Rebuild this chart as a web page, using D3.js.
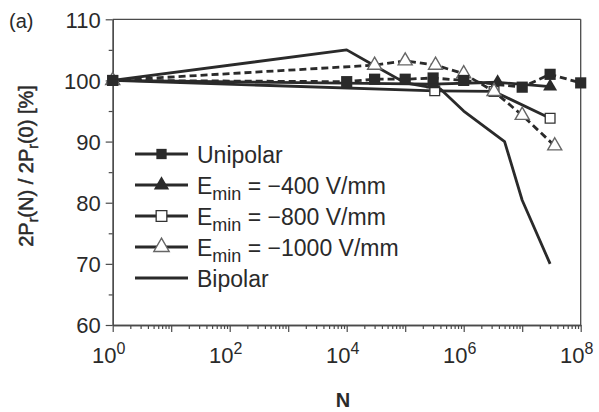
<!DOCTYPE html>
<html><head><meta charset="utf-8">
<script src="https://cdn.jsdelivr.net/npm/d3@7"></script>
<style>body{margin:0;background:#fff}svg{display:block}text{font-family:"Liberation Sans",Arial,sans-serif;fill:#2a2a2a}</style>
</head><body><svg id="c" width="599" height="412"></svg>
<script>
// ---- data ----
const unipolarN   = [1, 1e4, 3e4, 1e5, 3e5, 1e6, 1e7, 3e7, 1e8];
const unipolarV   = [100, 99.8, 100.2, 100.2, 100.4, 100.0, 98.9, 101.0, 99.6];
const e400N       = [1, 3e5, 3.8e6, 3e7];
const e400V       = [100, 99.4, 99.7, 99.0];
const e800N       = [1, 3.2e5, 3.3e6, 3e7];
const e800V       = [100, 98.3, 98.2, 93.8];
const e1000N      = [1, 3e4, 1e5, 3.3e5, 1e6, 3.3e6, 1e7, 3.6e7];
const e1000V      = [100, 102.5, 103.2, 102.5, 101.1, 98.2, 94.3, 89.3];
const bipolarN    = [1, 1e4, 3e4, 1e5, 4e5, 1e6, 5e6, 1e7, 3e7];
const bipolarV    = [100, 105, 102.4, 99.6, 98.6, 95.0, 90.0, 80.4, 70.0];
const legendLabels = ["Unipolar", "−400 V/mm", "−800 V/mm", "−1000 V/mm", "Bipolar"];
const yTicks = [60, 70, 80, 90, 100, 110];
const xTickExps = [0, 2, 4, 6, 8];

const svg = d3.select("#c");
const x = d3.scaleLog().domain([1, 1e8]).range([112.7, 580.7]);
const y = d3.scaleLinear().domain([60, 110]).range([325, 19.3]);
const ink = "#2a2a2a", frame = "#4a4a4a";

// frame top/right
svg.append("line").attr("x1", x(1)).attr("x2", x(1e8)).attr("y1", y(110)).attr("y2", y(110)).attr("stroke", frame).attr("stroke-width", 1.3);
svg.append("line").attr("x1", x(1e8)).attr("x2", x(1e8)).attr("y1", y(110)).attr("y2", y(60)).attr("stroke", frame).attr("stroke-width", 1.3);

// y axis
const yAxis = svg.append("g").attr("transform", `translate(${x(1)},0)`)
  .call(d3.axisLeft(y).tickValues(yTicks).tickSize(7).tickSizeOuter(0).tickFormat(d3.format("d")).tickPadding(5));
yAxis.selectAll("text").attr("font-size", 22).attr("dy", "0.36em").attr("fill", ink);
svg.append("g").attr("transform", `translate(${x(1)},0)`)
  .call(d3.axisLeft(y).tickValues([65, 75, 85, 95, 105]).tickSize(4).tickSizeOuter(0).tickFormat(""));

// x axis
const minor = [];
for (let e = 0; e < 8; e++) for (let m = 2; m <= 9; m++) minor.push(m * Math.pow(10, e));
const decades = d3.range(0, 9).map(e => Math.pow(10, e));
svg.append("g").attr("transform", `translate(0,${y(60)})`)
  .call(d3.axisBottom(x).tickValues(minor).tickSize(4).tickSizeOuter(0).tickFormat(""));
svg.append("g").attr("transform", `translate(0,${y(60)})`)
  .call(d3.axisBottom(x).tickValues(decades).tickSize(7).tickSizeOuter(0).tickFormat(""));
svg.selectAll(".domain").attr("stroke", frame).attr("stroke-width", 1.3);
svg.selectAll(".tick line").attr("stroke", frame).attr("stroke-width", 1.2);

xTickExps.forEach(e => {
  const t = svg.append("text").attr("x", x(Math.pow(10, e)) - 4).attr("y", 363).attr("text-anchor", "middle").attr("font-size", 22);
  t.append("tspan").text("10");
  t.append("tspan").attr("dy", -9).attr("font-size", 16).text(e);
});

// labels
svg.append("text").attr("x", 343).attr("y", 407).attr("text-anchor", "middle").attr("font-size", 20).attr("font-weight", "bold").text("N");
const yt = svg.append("text").attr("transform", "translate(33,166) rotate(-90)").attr("text-anchor", "middle")
  .attr("font-size", 20).attr("stroke", "#2a2a2a").attr("stroke-width", 0.5);
yt.append("tspan").text("2P");
yt.append("tspan").attr("font-size", 14).attr("dy", 5).text("r");
yt.append("tspan").attr("dy", -5).text("(N) / 2P");
yt.append("tspan").attr("font-size", 14).attr("dy", 5).text("r");
yt.append("tspan").attr("dy", -5).text("(0) [%]");
svg.append("text").attr("x", 9).attr("y", 28).attr("font-size", 20).text("(a)");

// series
const series = [
  {N: bipolarN, V: bipolarV, dash: null, marker: null},
  {N: e800N, V: e800V, dash: null, marker: "osq"},
  {N: e400N, V: e400V, dash: null, marker: "ftri"},
  {N: e1000N, V: e1000V, dash: "7,4", marker: "otri"},
  {N: unipolarN, V: unipolarV, dash: "7,4", marker: "fsq"},
];
const line = d3.line().x(d => x(d[0])).y(d => y(d[1]));
series.forEach(s => {
  const pts = s.N.map((n, i) => [n, s.V[i]]);
  svg.append("path").datum(pts).attr("d", line).attr("fill", "none").attr("stroke", ink)
    .attr("stroke-width", 2.8).attr("stroke-linejoin", "round").attr("stroke-dasharray", s.dash);
});
function marker(g, type, cx, cy, big) {
  const k = big || 1;
  if (type === "fsq") g.append("path").attr("d", d3.symbol(d3.symbolSquare, 125 * k)()).attr("transform", `translate(${cx},${cy})`).attr("fill", ink);
  if (type === "osq") g.append("path").attr("d", d3.symbol(d3.symbolSquare, 95 * k)()).attr("transform", `translate(${cx},${cy})`).attr("fill", "#fff").attr("stroke", "#333").attr("stroke-width", 1.3);
  if (type === "ftri") g.append("path").attr("d", d3.symbol(d3.symbolTriangle, 85 * k)()).attr("transform", `translate(${cx},${cy})`).attr("fill", ink);
  if (type === "otri") g.append("path").attr("d", d3.symbol(d3.symbolTriangle, 85 * k)()).attr("transform", `translate(${cx},${cy})`).attr("fill", "#fff").attr("stroke", "#666").attr("stroke-width", 1.4);
}
series.forEach(s => {
  if (!s.marker) return;
  s.N.forEach((n, i) => marker(svg, s.marker, x(n), y(s.V[i])));
});

// legend
const legY = [154, 185, 216, 247, 278];
const legM = ["fsq", "ftri", "osq", "otri", null];
legY.forEach((ly, i) => {
  svg.append("line").attr("x1", 135).attr("x2", 188).attr("y1", ly).attr("y2", ly).attr("stroke", ink).attr("stroke-width", 3);
  if (legM[i]) marker(svg, legM[i], 161.5, ly, i === 0 ? 0.85 : 1.2);
  const t = svg.append("text").attr("x", 197).attr("y", ly + 9).attr("font-size", 23);
  if (i === 0 || i === 4) t.text(legendLabels[i]);
  else {
    t.append("tspan").text("E");
    t.append("tspan").attr("font-size", 18).attr("dy", 6).text("min");
    t.append("tspan").attr("dy", -6).text(" = " + legendLabels[i]);
  }
});
</script></body></html>
